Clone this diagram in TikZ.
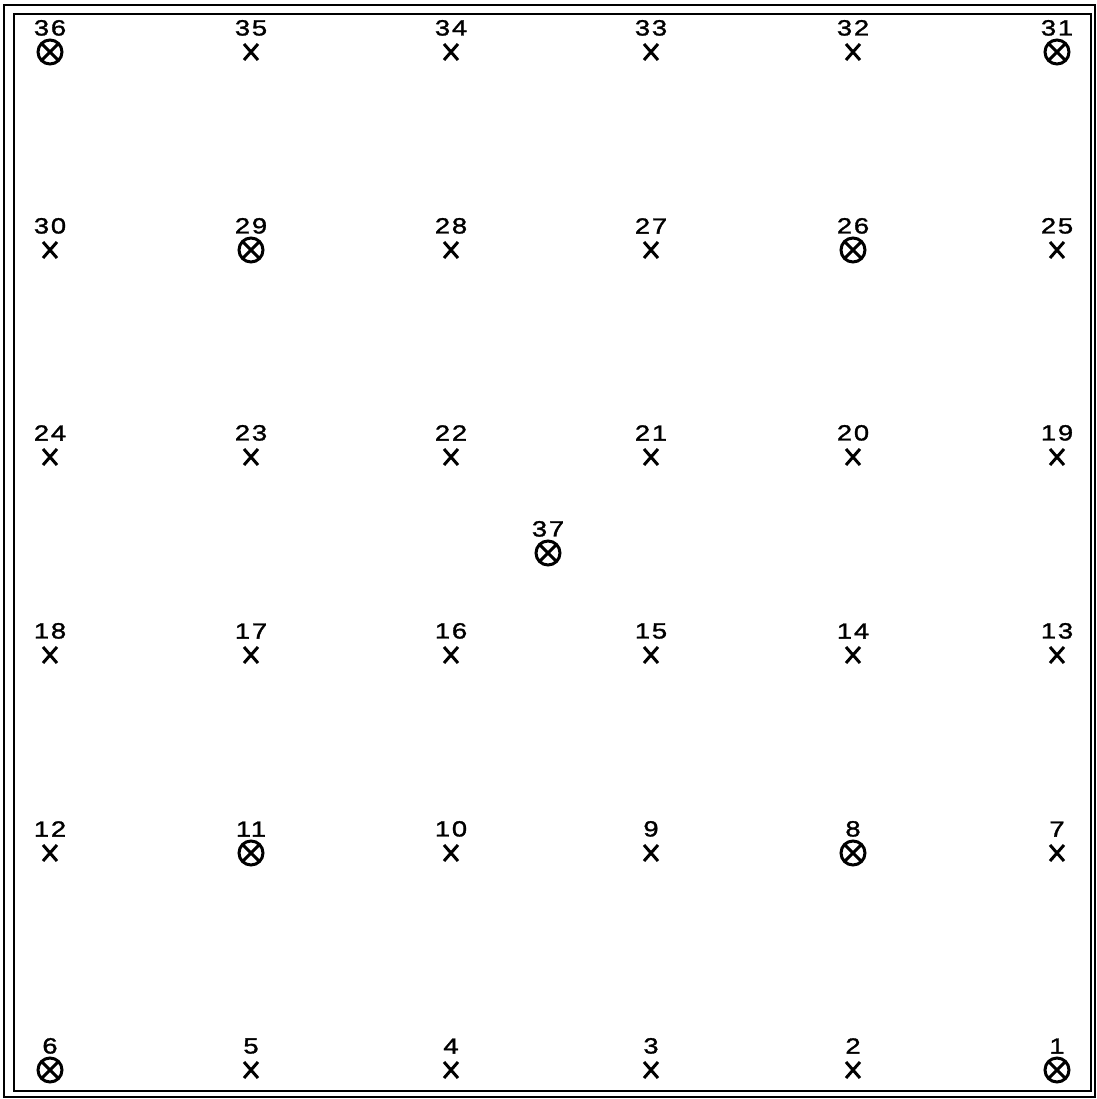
\documentclass[tikz,border=0pt]{standalone}
\usepackage{fontspec}
\newfontfamily\lettering[FakeStretch=1.25,LetterSpace=8,FakeBold=1.5]{Liberation Sans}
\usepackage{tikz}
\usetikzlibrary{positioning, shapes.misc}

\begin{document}
\begin{tikzpicture}[
    x=0.02cm, y=-0.02cm,
    xpt/.style={cross out, draw, line width=1.7pt, minimum width=0.28cm, minimum height=0.32cm,
                inner sep=0pt, outer sep=0pt},
    cpt/.style={circle, draw, line width=1.7pt, minimum size=0.48cm, inner sep=0pt, outer sep=0pt,
                path picture={
                  \draw[line width=1.7pt] (path picture bounding box.south west) -- (path picture bounding box.north east);
                  \draw[line width=1.7pt] (path picture bounding box.north west) -- (path picture bounding box.south east);
                }},
    numlbl/.style={inner sep=0pt, font=\lettering\fontsize{12.5}{14}\selectfont},
    frame/.style={draw, line width=1.2pt},
]
\useasboundingbox (0,0) rectangle (1096,1099);

% double border
\draw[frame] (4,5) rectangle (1095,1097);
\draw[frame] (14,14) rectangle (1091,1091);

% stations: number / x / y / mark
\foreach \n/\x/\y/\s in {
    36/50/52/cpt, 35/251/52/xpt, 34/451/52/xpt, 33/651/52/xpt, 32/853/52/xpt, 31/1057/52/cpt,
    30/50/250/xpt, 29/251/250/cpt, 28/451/250/xpt, 27/651/250/xpt, 26/853/250/cpt, 25/1057/250/xpt,
    24/50/457/xpt, 23/251/457/xpt, 22/451/457/xpt, 21/651/457/xpt, 20/853/457/xpt, 19/1057/457/xpt,
    18/50/655/xpt, 17/251/655/xpt, 16/451/655/xpt, 15/651/655/xpt, 14/853/655/xpt, 13/1057/655/xpt,
    12/50/853/xpt, 11/251/853/cpt, 10/451/853/xpt, 9/651/853/xpt, 8/853/853/cpt, 7/1057/853/xpt,
    6/50/1070/cpt, 5/251/1070/xpt, 4/451/1070/xpt, 3/651/1070/xpt, 2/853/1070/xpt, 1/1057/1070/cpt,
    37/548/553/cpt} {
  \node[\s] (m\n) at (\x,\y) {};
  \node[numlbl, above=0.32cm of m\n.center] (l\n) {\n};
}

\end{tikzpicture}
\end{document}
